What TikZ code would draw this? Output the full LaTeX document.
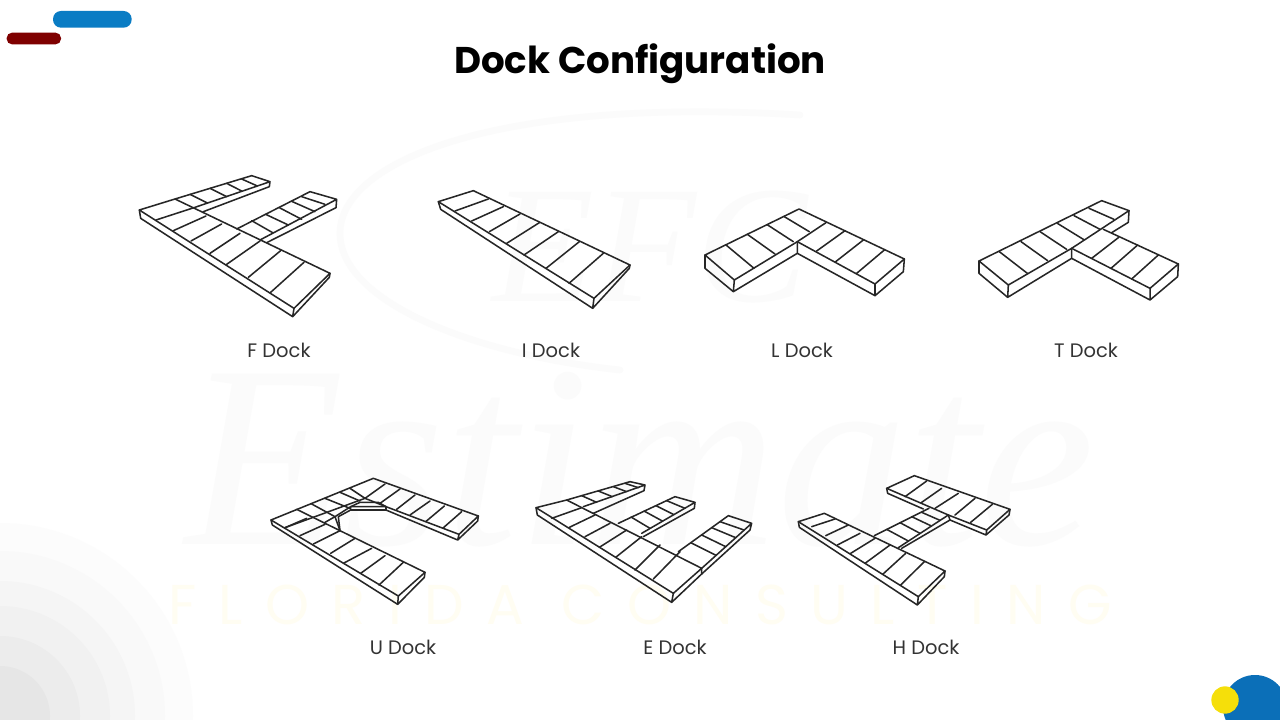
\documentclass[tikz,border=0pt]{standalone}
\usepackage{fontspec}
\setmainfont{Poppins}
\newfontfamily\wmserif{Liberation Serif}
\definecolor{pillblue}{HTML}{0A7CC4}
\definecolor{pillred}{HTML}{7F0000}
\definecolor{cornerblue}{HTML}{0B6FB8}
\definecolor{corneryellow}{HTML}{F5DF0A}
\definecolor{wmgrey}{HTML}{FBFBFB}
\definecolor{wmyellow}{HTML}{FFFDF2}
\tikzset{
  dk/.style={draw=black!85,line width=1.15pt,line join=round,line cap=round},
  docklabel/.style={font=\fontsize{14.6}{16}\selectfont,text=black!80,inner sep=0pt}
}
\begin{document}
\begin{tikzpicture}[x=0.25pt,y=-0.25pt]
\useasboundingbox (0,0) rectangle (3840,2160);
\clip (0,0) rectangle (3840,2160);
\fill[white] (0,0) rectangle (3840,2160);
% corner rings, bottom left
\fill[fill={rgb,255:red,252;green,252;blue,252}] (0,2148) circle (579);
\fill[fill={rgb,255:red,249;green,249;blue,249}] (0,2148) circle (495);
\fill[fill={rgb,255:red,245;green,245;blue,245}] (0,2148) circle (405);
\fill[fill={rgb,255:red,241;green,241;blue,241}] (0,2148) circle (330);
\fill[fill={rgb,255:red,236;green,236;blue,236}] (0,2148) circle (240);
\fill[fill={rgb,255:red,230;green,230;blue,230}] (0,2148) circle (150);
% watermark
\draw[wmgrey,line width=5pt,line cap=round] (2400,345) .. controls (1500,290) and (1020,480) .. (1020,700) .. controls (1020,900) and (1400,1060) .. (1860,1110);
\node[inner sep=0pt,text=wmgrey] (wmefc) at (1950,740) {\fontsize{125}{125}\selectfont\wmserif\itshape EFC};
\node[inner sep=0pt,text=wmgrey] (wmest) at (1920,1380) {\fontsize{195}{195}\selectfont\wmserif\itshape Estimate};
\node[inner sep=0pt,text=wmyellow] (wmflo) at (1920,1815) {\fontsize{42}{42}\selectfont\addfontfeatures{LetterSpace=40}FLORIDA CONSULTING};
% pills
\fill[pillblue,rounded corners=6pt] (159,33) rectangle (395,83);
\fill[pillred,rounded corners=4pt] (20,98) rectangle (183,133);
% title
\node[inner sep=0pt,text=black] (title) at (1920,192) {\fontsize{27.9}{32}\selectfont\bfseries Dock Configuration};
% corner bottom right
\fill[cornerblue] (3765,2121) circle (96);
\fill[corneryellow] (3675,2100) circle (41);
% F dock
\begin{scope}[shift={(360,480)}]
\draw[dk] (58,150)--(165,117)--(630,340)--(522,445)--cycle;
\draw[dk] (58,150)--(62,175)--(518,470)--(522,445) (518,470)--(628,352)--(630,340);
\draw[dk] (165,117)--(395,47)--(450,65)--(222,143) (250,155)--(448,80)--(450,65);
\draw[dk] (350,207)--(570,95)--(650,118)--(420,240) (440,248)--(648,143)--(650,118);
\foreach \a/\b/\c/\d in {108/180/222/143,160/212/258/168,213/243/305/192,270/280/360/220,320/313/420/243,385/352/482/272,452/397/552/307,
  210/103/262/129,270/85/320/110,320/70/365/93,365/57/410/77,
  395/182/458/218,437/163/505/195,478/143/545/178,515/124/585/155,545/110/615/133}
  \draw[dk] (\a,\b)--(\c,\d);
\end{scope}
% I dock
\begin{scope}[shift={(1260,510)}]
\draw[dk] (55,95)--(160,62)--(630,285)--(522,385)--cycle;
\draw[dk] (55,95)--(62,118)--(518,415)--(522,385) (518,415)--(628,295)--(630,285);
\foreach \a/\b/\c/\d in {105/123/205/87,155/153/250/110,208/185/300/132,260/220/358/158,312/255/415/185,378/295/478/215,447/340/550/250}
  \draw[dk] (\a,\b)--(\c,\d);
\end{scope}
% L dock
\begin{scope}[shift={(2070,570)}]
\draw[dk] (45,195)--(327,57)--(643,207)--(555,282)--(322,155)--(133,270)--cycle;
\draw[dk] (45,195)--(45,235)--(130,305)--(133,270) (130,305)--(322,190)--(322,155) (322,190)--(555,317)--(555,282) (555,317)--(640,245)--(643,207);
\foreach \a/\b/\c/\d in {108/165/192/235,172/133/255/192,233/105/310/155,283/80/358/125,322/155/408/98,380/183/465/122,437/215/520/150,500/250/583/180}
  \draw[dk] (\a,\b)--(\c,\d);
\end{scope}
% T dock
\begin{scope}[shift={(2895,570)}]
\draw[dk] (42,213)--(410,32)--(492,62)--(320,175)--(130,285)--cycle;
\draw[dk] (42,213)--(42,250)--(128,322)--(130,285) (128,322)--(320,205)--(320,175);
\draw[dk] (492,62)--(490,97)--(440,128);
\draw[dk] (415,118)--(640,222)--(555,295)--(320,175);
\draw[dk] (320,205)--(555,330)--(555,295) (555,330)--(638,260)--(640,222);
\foreach \a/\b/\c/\d in {103/185/187/250,168/155/248/212,225/125/305/178,277/100/355/148,327/77/405/118,372/55/447/88,380/205/460/143,438/235/518/165,500/267/580/195}
  \draw[dk] (\a,\b)--(\c,\d);
\end{scope}
% U dock
\begin{scope}[shift={(780,1395)}]
\draw[dk] (33,165)--(340,40)--(655,153)--(597,208)--(378,125)--(272,125)--(225,155)--(240,197)--(495,322)--(415,393)--cycle;
\draw[dk] (33,165)--(37,180)--(413,418)--(415,393) (413,418)--(493,337)--(495,322);
\draw[dk] (378,135)--(593,225)--(597,208) (593,225)--(653,168)--(655,153);
\draw[dk] (272,125)--(300,112)--(355,112)--(378,125) (272,125)--(272,135)--(378,135)--(378,125);
\draw[dk] (272,135)--(235,155)--(240,197);
\draw[dk] (110,133)--(240,197) (195,172)--(225,155);
\draw[dk] (75,188)--(315,100)--(378,125) (270,70)--(315,100);
\foreach \a/\b/\c/\d in {75/188/140/160,120/212/195/178,160/237/240/197,212/265/285/220,250/295/335/250,302/325/375/272,357/360/430/292,
  155/117/225/155,195/100/270/130,240/82/300/108,
  315/100/375/57,360/115/420/72,410/133/465/90,450/150/510/108,497/170/553/123,548/190/605/140}
  \draw[dk] (\a,\b)--(\c,\d);
\end{scope}
% E dock
\begin{scope}[shift={(1575,1410)}]
\draw[dk] (33,113)--(125,90)--(530,295)--(445,370)--cycle;
\draw[dk] (33,113)--(37,135)--(440,397)--(445,370) (440,397)--(530,312)--(530,295);
\draw[dk] (125,90)--(315,35)--(360,45)--(175,110) (205,130)--(357,62)--(360,45);
\draw[dk] (280,160)--(450,80)--(510,97)--(350,190) (355,200)--(508,115)--(510,97);
\draw[dk] (460,245)--(610,137)--(680,160)--(530,295) (530,312)--(675,180)--(680,160);
\foreach \a/\b/\c/\d in {80/145/170/113,133/172/210/135,180/200/255/160,223/232/305/180,272/262/350/200,330/300/405/225,385/327/465/245,
  170/77/215/97,220/63/262/80,265/50/305/65,300/40/340/53,
  318/141/375/175,357/123/412/153,393/107/445/133,425/92/480/115,
  497/218/573/256,530/195/602/230,560/173/632/203,585/155/657/180}
  \draw[dk] (\a,\b)--(\c,\d);
\end{scope}
% H dock
\begin{scope}[shift={(2355,1395)}]
\draw[dk] (40,170)--(118,145)--(480,318)--(400,395)--cycle;
\draw[dk] (40,170)--(43,187)--(397,420)--(400,395) (397,420)--(478,335)--(480,318);
\draw[dk] (268,212)--(432,130) (340,248)--(490,150) (350,250)--(495,165)--(490,150);
\draw[dk] (305,70)--(388,32)--(675,133)--(605,195)--(490,150)--cycle;
\draw[dk] (305,70)--(308,85)--(415,132) (495,165)--(603,210)--(605,195) (603,210)--(672,150)--(675,133);
\foreach \a/\b/\c/\d in {80/185/150/162,122/212/190/180,157/240/225/205,197/265/270/220,240/295/315/240,293/328/362/265,347/360/418/290,
  305/193/370/228,345/173/405/205,380/155/437/182,410/142/465/166,
  360/95/425/48,410/112/470/70,450/130/520/85,510/150/570/100,557/172/622/118}
  \draw[dk] (\a,\b)--(\c,\d);
\end{scope}
% labels
\node[docklabel] (lf) at (837,1050) {F Dock};
\node[docklabel] (li) at (1653,1050) {I Dock};
\node[docklabel] (ll) at (2406,1050) {L Dock};
\node[docklabel] (lt) at (3258,1050) {T Dock};
\node[docklabel] (lu) at (1209,1941) {U Dock};
\node[docklabel] (le) at (2025,1941) {E Dock};
\node[docklabel] (lh) at (2778,1941) {H Dock};
\end{tikzpicture}
\end{document}
